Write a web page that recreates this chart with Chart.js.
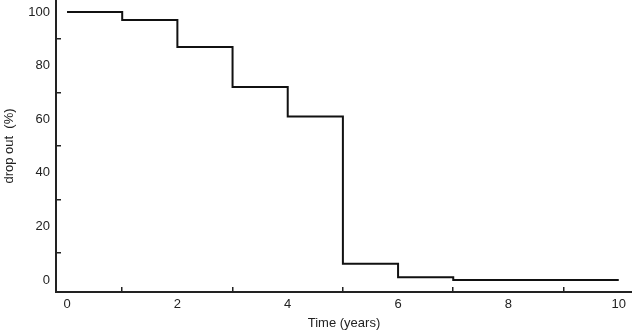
<!DOCTYPE html>
<html>
<head>
<meta charset="utf-8">
<script src="https://cdn.jsdelivr.net/npm/chart.js@4"></script>
<style>
  html, body { margin: 0; padding: 0; background: #fff; }
  #wrap { width: 632px; height: 332px; }
</style>
</head>
<body>
<div id="wrap"><canvas id="dropChart"></canvas></div>
<script>
// Kaplan-Meier style drop out curve
const timeYears = [0, 1, 2, 3, 4, 5, 6, 7, 10];
const dropOut = [100, 97, 87, 72, 61, 6, 1, 0, 0];
const xTickValues = [0, 1, 2, 3, 4, 5, 6, 7, 8, 9, 10];
const yTickValues = [0, 10, 20, 30, 40, 50, 60, 70, 80, 90, 100];

const ink = '#222';
const baseFont = { family: '"Liberation Sans", Arial, sans-serif', size: 13 };

const points = timeYears.map((t, i) => ({ x: t, y: dropOut[i] }));

new Chart(document.getElementById('dropChart').getContext('2d'), {
  type: 'line',
  data: {
    datasets: [{
      label: 'drop out',
      data: points,
      stepped: 'before',
      borderColor: '#111',
      borderWidth: 2,
      pointRadius: 0,
      fill: false
    }]
  },
  options: {
    responsive: true,
    maintainAspectRatio: false,
    animation: false,
    layout: { padding: 0 },
    plugins: {
      legend: { display: false },
      tooltip: { enabled: false }
    },
    scales: {
      x: {
        type: 'linear',
        min: -0.2,
        max: 10.24,
        afterBuildTicks: scale => { scale.ticks = xTickValues.map(v => ({ value: v })); },
        afterFit: scale => {
          scale.height = 40;
          scale.paddingLeft = 0;
          scale.paddingRight = 0;
        },
        border: { display: true, color: ink, width: 2 },
        grid: {
          drawOnChartArea: false,
          drawTicks: true,
          tickLength: -5,
          lineWidth: 1.5,
          color: ctx => (ctx.tick && ctx.tick.value % 2 === 1) ? ink : 'rgba(0,0,0,0)'
        },
        ticks: {
          color: ink,
          font: baseFont,
          padding: 10,
          maxRotation: 0,
          autoSkip: false,
          callback: v => (v % 2 === 0 ? String(v) : '')
        },
        title: {
          display: true,
          text: 'Time (years)',
          color: ink,
          font: baseFont,
          padding: { top: 0, bottom: 1 }
        }
      },
      y: {
        min: -4.5,
        max: 104.5,
        afterBuildTicks: scale => { scale.ticks = yTickValues.map(v => ({ value: v })); },
        afterFit: scale => {
          scale.width = 56;
          scale.paddingTop = 0;
          scale.paddingBottom = 0;
        },
        border: { display: true, color: ink, width: 2 },
        grid: {
          drawOnChartArea: false,
          drawTicks: true,
          tickLength: -5,
          lineWidth: 1.5,
          color: ctx => (ctx.tick && ctx.tick.value % 20 === 10) ? ink : 'rgba(0,0,0,0)'
        },
        ticks: {
          color: ink,
          font: baseFont,
          padding: 11,
          autoSkip: false,
          callback: v => (v % 20 === 0 ? String(v) : '')
        },
        title: {
          display: true,
          text: 'drop out  (%)',
          color: ink,
          font: baseFont,
          padding: { top: 2, bottom: 0 }
        }
      }
    }
  }
});
</script>
</body>
</html>
